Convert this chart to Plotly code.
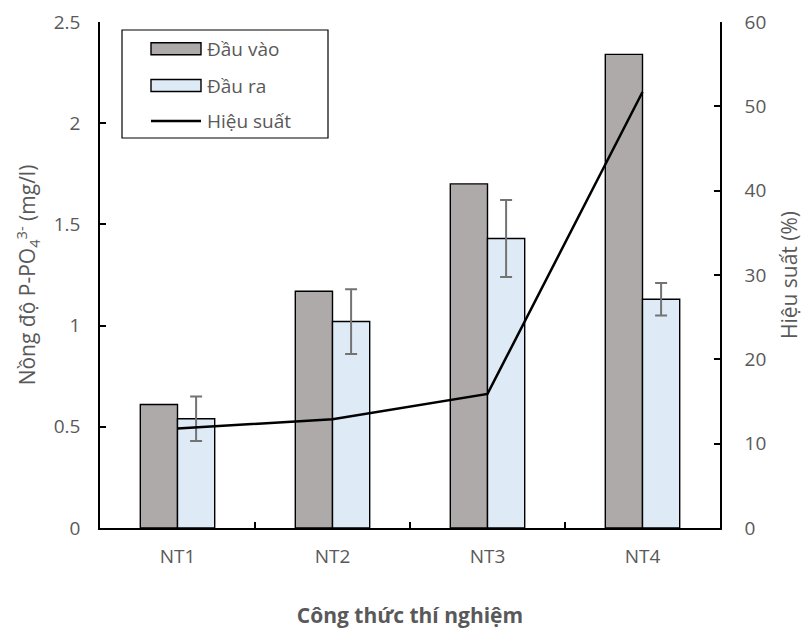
import plotly.graph_objects as go

# Treatments and measured orthophosphate concentrations (mg/l)
categories = ["NT1", "NT2", "NT3", "NT4"]
influent = [0.61, 1.17, 1.70, 2.34]
effluent = [0.54, 1.02, 1.43, 1.13]
effluent_err = [0.11, 0.16, 0.19, 0.08]
# Removal efficiency (%)
efficiency = [11.8, 12.9, 15.9, 51.7]

series_names = ["Đầu vào", "Đầu ra", "Hiệu suất"]
bar_colors = ["#AEAAAA", "#DEEBF7"]

FONT = "Open Sans"
TEXT = "#595959"

W, H = 804, 629
M = dict(l=100, r=84, t=22, b=101)
PW = W - M["l"] - M["r"]
PH = H - M["t"] - M["b"]


def px_x(px):
    """Horizontal pixel position -> paper fraction."""
    return (px - M["l"]) / PW


def px_y(py):
    """Vertical pixel position (from top) -> paper fraction."""
    return (H - M["b"] - py) / PH


fig = go.Figure()

fig.add_trace(go.Bar(
    x=categories, y=influent, name=series_names[0],
    marker=dict(color=bar_colors[0], line=dict(color="black", width=1.4)),
))
fig.add_trace(go.Bar(
    x=categories, y=effluent, name=series_names[1],
    marker=dict(color=bar_colors[1], line=dict(color="black", width=1.4)),
    error_y=dict(type="data", array=effluent_err, visible=True,
                 color="#737373", thickness=2, width=6),
))
fig.add_trace(go.Scatter(
    x=categories, y=efficiency, name=series_names[2], yaxis="y2",
    mode="lines", line=dict(color="black", width=2.5),
))

# Boxed legend with wide swatches
shapes = [dict(type="rect", xref="paper", yref="paper",
               x0=px_x(122), x1=px_x(328), y0=px_y(138), y1=px_y(30),
               line=dict(color="black", width=1.2), fillcolor="white",
               layer="above")]
annotations = []
row_y = [48.8, 85.5, 121.0]
for i, name in enumerate(series_names):
    cy = row_y[i]
    if i < 2:
        shapes.append(dict(type="rect", xref="paper", yref="paper",
                           x0=px_x(151), x1=px_x(201), y0=px_y(cy + 6), y1=px_y(cy - 6),
                           line=dict(color="black", width=1.4),
                           fillcolor=bar_colors[i], layer="above"))
    else:
        shapes.append(dict(type="line", xref="paper", yref="paper",
                           x0=px_x(151), x1=px_x(201), y0=px_y(cy), y1=px_y(cy),
                           line=dict(color="black", width=2.5), layer="above"))
    annotations.append(dict(text=name, xref="paper", yref="paper",
                            x=px_x(205), y=px_y(cy), xanchor="left", yanchor="middle",
                            showarrow=False,
                            font=dict(family=FONT, size=19, color=TEXT)))

fig.update_layout(
    width=W, height=H, margin=M,
    paper_bgcolor="white", plot_bgcolor="white",
    font=dict(family=FONT, size=19, color=TEXT),
    barmode="group", bargap=0.52, bargroupgap=0,
    showlegend=False,
    shapes=shapes, annotations=annotations,
    xaxis=dict(
        showline=True, linecolor="black", linewidth=1.5,
        ticks="inside", ticklen=6, tickcolor="black", tickwidth=1.5,
        tickson="boundaries", showgrid=False, zeroline=False,
        ticklabelstandoff=10, automargin=False,
        title=dict(text="<b>Công thức thí nghiệm</b>",
                   font=dict(family=FONT, size=21, color=TEXT), standoff=47),
    ),
    yaxis=dict(
        range=[0, 2.5], dtick=0.5, showgrid=False, zeroline=False,
        showline=True, linecolor="black", linewidth=1.5,
        ticks="inside", ticklen=6, tickcolor="black", tickwidth=1.5,
        ticklabelstandoff=14, automargin=False,
        title=dict(text="Nồng độ P-PO<sub>4</sub><sup>3-</sup> (mg/l)",
                   font=dict(family=FONT, size=21, color=TEXT), standoff=12),
    ),
    yaxis2=dict(
        range=[0, 60], dtick=10, overlaying="y", side="right",
        showgrid=False, zeroline=False,
        showline=True, linecolor="black", linewidth=1.5,
        ticks="inside", ticklen=6, tickcolor="black", tickwidth=1.5,
        ticklabelstandoff=19, automargin=False,
        title=dict(text="Hiệu suất (%)",
                   font=dict(family=FONT, size=21, color=TEXT), standoff=17),
    ),
)

fig.write_html("out.html")
